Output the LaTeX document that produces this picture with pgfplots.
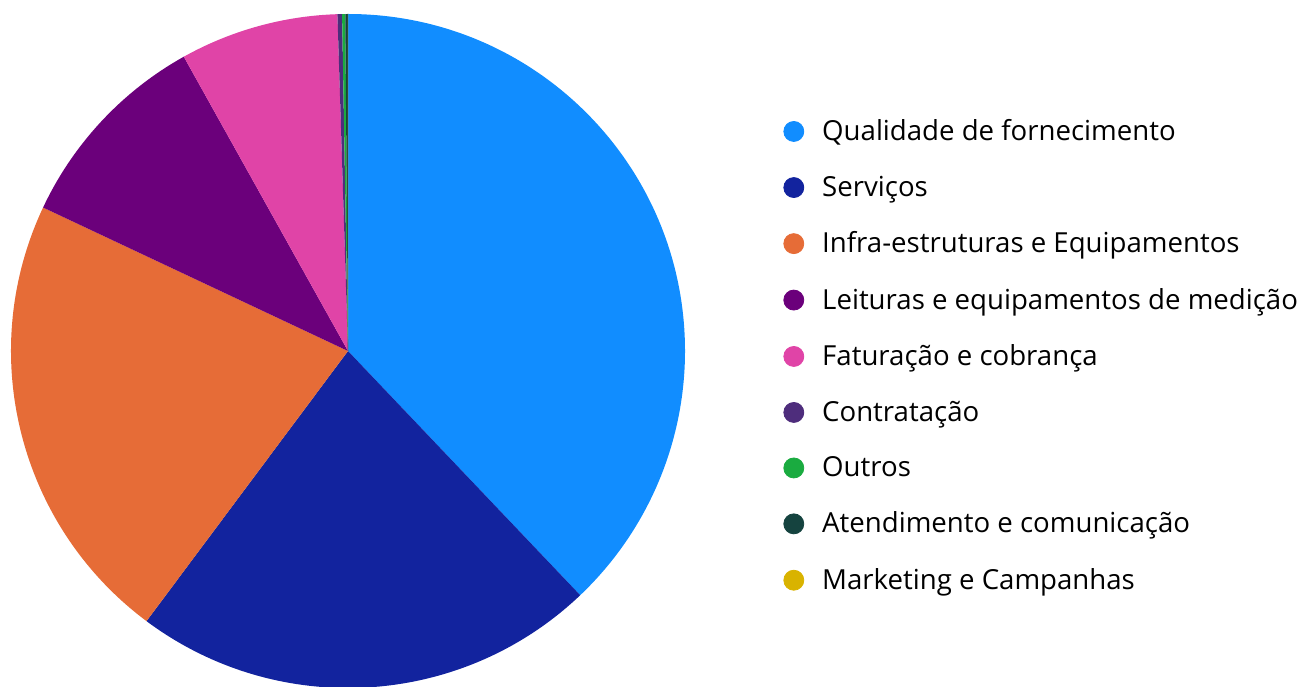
\documentclass[border=0pt]{standalone}
\usepackage{fontspec}
\setmainfont{Open Sans}
\usepackage{pgfplots}
\usepackage{pgfplotstable}
\pgfplotsset{compat=1.18}

\definecolor{cQual}{HTML}{118DFF}
\definecolor{cServ}{HTML}{12239E}
\definecolor{cInfra}{HTML}{E66C37}
\definecolor{cLeit}{HTML}{6B007B}
\definecolor{cFat}{HTML}{E044A7}
\definecolor{cContr}{HTML}{4E2D7C}
\definecolor{cOutr}{HTML}{1AAB40}
\definecolor{cAtend}{HTML}{15433F}
\definecolor{cMkt}{HTML}{D9B300}

% share of each category (percent), clockwise from 12 o'clock
\pgfplotstableread[col sep=comma]{
label,value,color
Qualidade de fornecimento,37.9,cQual
Serviços,22.3,cServ
Infra-estruturas e Equipamentos,21.8,cInfra
Leituras e equipamentos de medição,9.9,cLeit
Faturação e cobrança,7.6,cFat
Contratação,0.22,cContr
Outros,0.15,cOutr
Atendimento e comunicação,0.12,cAtend
Marketing e Campanhas,0.01,cMkt
}\piedata

\begin{document}
\begin{tikzpicture}
\begin{axis}[
  x=0.5pt, y=0.5pt,
  xmin=0, xmax=1309, ymin=0, ymax=686,
  hide axis, clip=false,
  legend cell align=left,
  legend style={
    at={(axis cs:783,567)}, anchor=north west,
    draw=none, fill=none, font=\fontsize{13.8}{16.5}\selectfont,
    row sep=16.2pt, inner sep=0pt,
    nodes={inner xsep=4pt, inner ysep=0pt},
  },
  legend image code/.code={\fill[#1] (5pt,0pt) circle (5pt); \path (15pt,0pt);},
]
\def\cum{0}
\pgfplotsforeachungrouped \i in {0,...,8}{
  \pgfplotstablegetelem{\i}{value}\of\piedata \let\wv\pgfplotsretval
  \pgfplotstablegetelem{\i}{color}\of\piedata \let\wc\pgfplotsretval
  \pgfplotstablegetelem{\i}{label}\of\piedata \let\wl\pgfplotsretval
  \pgfmathsetmacro\sa{90-3.6*\cum}
  \pgfmathsetmacro\ea{90-3.6*(\cum+\wv)}
  \pgfmathsetmacro\newcum{\cum+\wv}
  \global\let\cum\newcum
  \edef\temp{%
    \noexpand\fill[\wc] (axis cs:348,335) -- ++(\sa:168.5pt)
      arc[start angle=\sa, end angle=\ea, radius=168.5pt] -- cycle;
    \noexpand\addlegendimage{\wc}
    \noexpand\addlegendentry{\wl}}
  \temp
}
\end{axis}
\pgfresetboundingbox
\path[use as bounding box] (current axis.south west) rectangle (current axis.north east);
\end{tikzpicture}
\end{document}
